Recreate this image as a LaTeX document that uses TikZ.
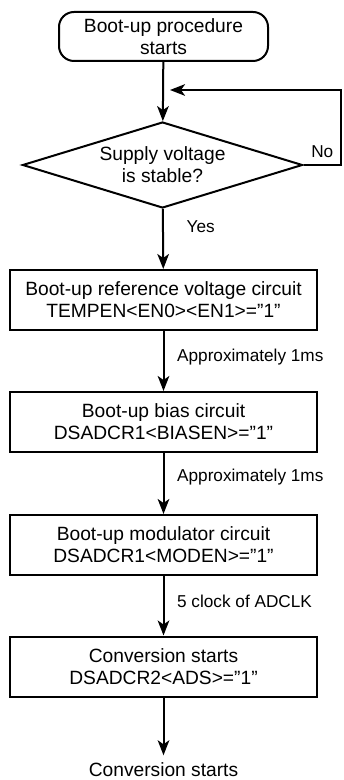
\documentclass[tikz,border=0pt]{standalone}
\usepackage{fontspec}
\setmainfont{Liberation Sans}
\usetikzlibrary{arrows.meta,shapes.geometric}

\newcommand{\flowfont}{\fontsize{9.6}{11}\selectfont}
\newcommand{\notefont}{\fontsize{8.6}{10}\selectfont}

\tikzset{
  startbox/.style={draw,rounded corners=7.5pt,minimum width=104.5pt,minimum height=24.5pt,
    inner sep=1pt,align=center,font=\flowfont},
  decision/.style={draw,diamond,aspect=3.2,minimum width=140pt,minimum height=43pt,
    inner sep=0pt,align=center,font=\flowfont},
  procbox/.style={draw,minimum width=153.5pt,minimum height=30pt,inner sep=2pt,
    align=center,font=\flowfont},
  note/.style={font=\notefont,right=3pt}
}

\begin{document}
\begin{tikzpicture}[x=0.5pt,y=-0.5pt,line width=1pt,>={Stealth[length=7.5pt,width=5.8pt,inset=2pt]}]
  \useasboundingbox (0,0) rectangle (343,780);
  \node[startbox] (start) at (163.5,36.5) {Boot-up procedure\\starts};
  \node[decision] (stable) at (162.5,165) {Supply voltage\\is stable?};
  \node[procbox] (refv) at (163.5,300) {Boot-up reference voltage circuit\\TEMPEN<EN0><EN1>=”1”};
  \node[procbox] (bias) at (163.5,422) {Boot-up bias circuit\\DSADCR1<BIASEN>=”1”};
  \node[procbox] (modu) at (163.5,545) {Boot-up modulator circuit\\DSADCR1<MODEN>=”1”};
  \node[procbox] (conv) at (163.5,666.5) {Conversion starts\\DSADCR2<ADS>=”1”};
  \node[font=\flowfont] (done) at (163.5,770) {Conversion starts};
  \coordinate (back) at (341,90);
  \coordinate (loop) at (170,90);

  \draw[->] (start) -- (stable);
  \draw[->] (stable.east) -- node[above,font=\notefont]{No} (stable.east -| back) -- (back) -- (loop);
  \draw[->] (stable) -- node[note,right=5pt,pos=0.3]{Yes} (refv);
  \draw[->] (refv) -- node[note,pos=0.43]{Approximately 1ms} (bias);
  \draw[->] (bias) -- node[note,pos=0.4]{Approximately 1ms} (modu);
  \draw[->] (modu) -- node[note,pos=0.42]{5 clock of ADCLK} (conv);
  \draw[->] (conv) -- (done);
\end{tikzpicture}
\end{document}
